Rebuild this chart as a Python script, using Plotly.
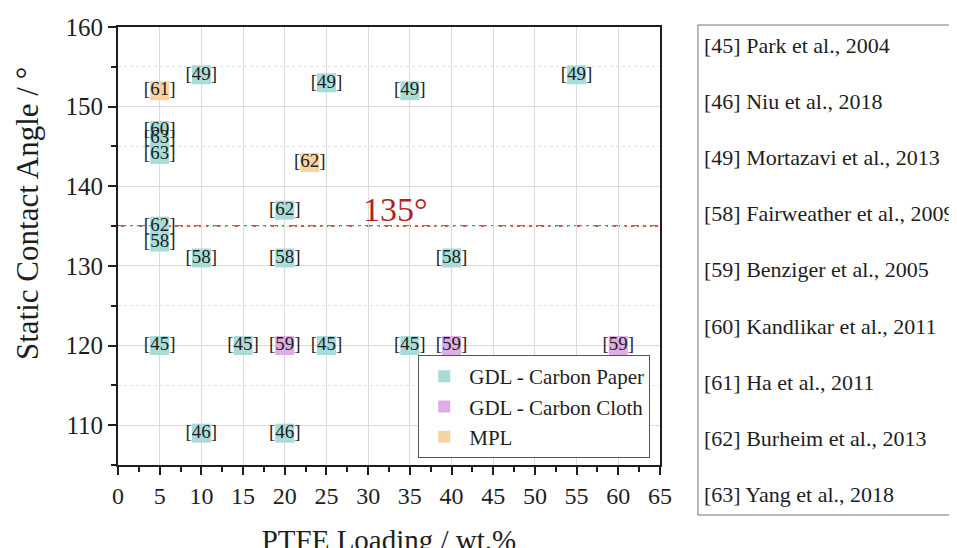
import plotly.graph_objects as go

# ---- data ----
paper_x = [5, 5, 5, 5, 5, 10, 25, 35, 55, 20, 10, 20, 40, 5, 15, 25, 35, 10, 20]
paper_y = [147, 146, 144, 135, 133, 154, 153, 152, 154, 137, 131, 131, 131, 120, 120, 120, 120, 109, 109]
paper_lbl = ["60", "63", "63", "62", "58", "49", "49", "49", "49", "62", "58", "58", "58",
             "45", "45", "45", "45", "46", "46"]

cloth_x = [20, 40, 60]
cloth_y = [120, 120, 120]
cloth_lbl = ["59", "59", "59"]

mpl_x = [5, 23]
mpl_y = [152, 143]
mpl_lbl = ["61", "62"]

threshold = 135

ref_ids = ["45", "46", "49", "58", "59", "60", "61", "62", "63"]
ref_names = ["Park et al., 2004", "Niu et al., 2018", "Mortazavi et al., 2013",
             "Fairweather et al., 2009", "Benziger et al., 2005", "Kandlikar et al., 2011",
             "Ha et al., 2011", "Burheim et al., 2013", "Yang et al., 2018"]

x_ticks = list(range(0, 70, 5))

SERIF = "Liberation Serif, Times New Roman, serif"
C_PAPER = "#a9dcd9"
C_CLOTH = "#dcaee3"
C_MPL = "#f7d3a0"
TXT = "#1e1e1e"

fig = go.Figure()

def add_series(xs, ys, lbls, name, color):
    fig.add_trace(go.Scatter(
        x=xs, y=ys, mode="markers+text", name=name,
        text=["[" + l + "]" for l in lbls], textposition="middle center",
        textfont=dict(family=SERIF, size=19, color=TXT),
        marker=dict(symbol="square", size=19, color=color, line=dict(width=0)),
        cliponaxis=False,
    ))

add_series(paper_x, paper_y, paper_lbl, "GDL - Carbon Paper", C_PAPER)
add_series(cloth_x, cloth_y, cloth_lbl, "GDL - Carbon Cloth", C_CLOTH)
add_series(mpl_x, mpl_y, mpl_lbl, "MPL", C_MPL)

# threshold line
fig.add_shape(type="line", xref="x", yref="y", x0=0, x1=65, y0=threshold, y1=threshold,
              line=dict(color="#e84b4b", width=2, dash="8px,4px,3px,4px"), layer="below")
fig.add_annotation(x=33.3, y=threshold + 2.1, xref="x", yref="y", text=f"{threshold}°",
                   showarrow=False, font=dict(family=SERIF, size=34, color="#b41f1f"))

# reference list box (positions relative to the plot area)
def py(pix):
    return (465 - pix) / 438.0

def px(pix):
    return (pix - 118) / 542.0

fig.add_shape(type="rect", xref="paper", yref="paper", x0=1.070, x1=1.60, y0=py(515), y1=py(25),
              line=dict(color="#777777", width=1), fillcolor="rgba(0,0,0,0)")
for i, (rid, nm) in enumerate(zip(ref_ids, ref_names)):
    ypix = 45 + i * 56.2
    fig.add_annotation(xref="paper", yref="paper", x=1.077, y=py(ypix), xanchor="left",
                       yanchor="middle", text=f"[{rid}] {nm}", showarrow=False,
                       font=dict(family=SERIF, size=22, color=TXT))

# y-axis title (placed as in the reference, above the centre of the axis)
fig.add_annotation(xref="paper", yref="paper", x=px(27), y=py(214), textangle=-90,
                   xanchor="center", yanchor="middle", showarrow=False,
                   text="Static Contact Angle / °", font=dict(family=SERIF, size=31, color=TXT))

fig.update_layout(
    width=957, height=548,
    margin=dict(l=110, r=305, t=19, b=91),
    paper_bgcolor="white", plot_bgcolor="white",
    font=dict(family=SERIF, color=TXT),
    showlegend=True,
    legend=dict(x=0.982, y=0.016, xanchor="right", yanchor="bottom",
                bgcolor="white", bordercolor="#555555", borderwidth=1,
                font=dict(family=SERIF, size=21, color=TXT),
                itemsizing="constant", itemwidth=40, tracegroupgap=0),
)

fig.update_xaxes(
    range=[0, 65], tickvals=x_ticks, ticktext=[str(v) for v in x_ticks],
    showline=True, linecolor=TXT, linewidth=2, mirror=True,
    ticks="outside", ticklen=8, tickwidth=2, tickcolor=TXT,
    showgrid=True, gridcolor="#dcdcdc", gridwidth=1,
    minor=dict(dtick=2.5, ticks="outside", ticklen=5, tickwidth=1.5, tickcolor=TXT, showgrid=False),
    tickfont=dict(family=SERIF, size=24, color=TXT),
    title=dict(text="PTFE Loading / wt.%", font=dict(family=SERIF, size=29, color=TXT), standoff=22),
    automargin=False, zeroline=False,
)
fig.update_yaxes(
    range=[105, 160], dtick=10, tick0=110,
    showline=True, linecolor=TXT, linewidth=2, mirror=True,
    ticks="outside", ticklen=8, tickwidth=2, tickcolor=TXT,
    showgrid=True, gridcolor="#dcdcdc", gridwidth=1,
    minor=dict(dtick=5, tick0=105, ticks="outside", ticklen=5, tickwidth=1.5, tickcolor=TXT,
               showgrid=True, gridcolor="#e2e2e2", griddash="dot"),
    tickfont=dict(family=SERIF, size=25, color=TXT),
    automargin=False, zeroline=False,
)

fig.write_html("out.html")
